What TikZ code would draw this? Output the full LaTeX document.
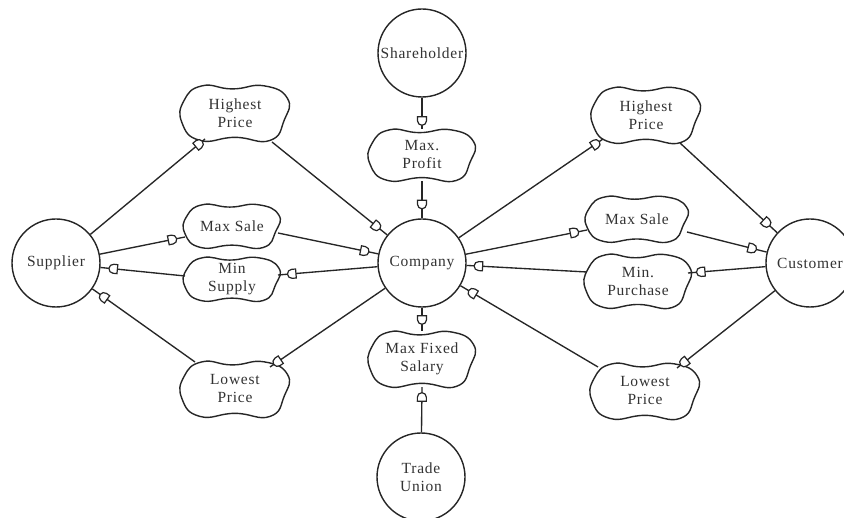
\documentclass[tikz,border=0pt]{standalone}
\usepackage{fontspec}
\setmainfont{Liberation Serif}[LetterSpace=5.0]
\usetikzlibrary{calc,decorations.markings}

\definecolor{ink}{HTML}{262626}
\definecolor{txt}{HTML}{333333}
\newcommand\lblfont{\fontsize{15.5}{18}\selectfont}

% soft pillow-shaped goal outline around a named node, half width #2, half height #3
\newcommand\goalblob[3]{%
  \draw[ink, line width=1.4pt, shift={(#1)}, x=#2pt, y=-#3pt]
    plot[smooth cycle, tension=0.85] coordinates {
      (-0.62,-0.97) (-0.05,-0.86) (0.55,-0.97) (0.99,-0.52)
      (0.93,0.25) (0.66,0.98) (0.00,0.87) (-0.66,0.98)
      (-1.00,0.35) (-0.96,-0.45)};}

\tikzset{
  actor/.style={circle, draw=ink, line width=1.4pt, minimum size=88pt,
    inner sep=0pt, font=\lblfont, text=txt},
  goal/.style={rectangle, inner sep=0pt, font=\lblfont, text=txt, align=center},
  link/.style={draw=ink, line width=1.35pt},
  dep/.style={link, postaction={decorate}, decoration={markings,
    mark=at position -#1pt with {\draw[ink, line width=1.2pt, fill=white]
      (-4pt,-4.5pt) -- (0pt,-4.5pt) arc[start angle=-90, end angle=90, radius=4.5pt]
      -- (-4pt,4.5pt) -- cycle;}}},
}

\begin{document}
\begin{tikzpicture}[x=1pt,y=-1pt]
\fill[white] (0,0) rectangle (844,518);
\clip (0,0) rectangle (844,518);

% actors
\node[actor] (sup) at (56,263) {Supplier};
\node[actor] (co)  at (422,263) {Company};
\node[actor] (cus) at (810,263) {Customer};
\node[actor] (sh)  at (422,53) {Shareholder};
\node[actor, align=center] (tu) at (421,477) {Trade\\Union};

% goals
\node[goal, minimum width=106pt, minimum height=56pt] (hpl) at (235,113) {Highest\\Price};
\node[goal, minimum width=94pt,  minimum height=44pt] (msl) at (232,226) {Max Sale};
\node[goal, minimum width=94pt,  minimum height=44pt] (mnl) at (232,279) {Min\\Supply};
\node[goal, minimum width=106pt, minimum height=56pt] (lpl) at (235,389) {Lowest\\Price};
\node[goal, minimum width=104pt, minimum height=52pt] (mp)  at (422,155) {Max.\\Profit};
\node[goal, minimum width=104pt, minimum height=56pt] (mfs) at (422,359) {Max Fixed\\Salary};
\node[goal, minimum width=106pt, minimum height=56pt] (hpr) at (646,115) {Highest\\Price};
\node[goal, minimum width=100pt, minimum height=46pt] (msr) at (637,219) {Max Sale};
\node[goal, minimum width=104pt, minimum height=54pt] (mnr) at (638,281) {Min.\\Purchase};
\node[goal, minimum width=106pt, minimum height=56pt] (lpr) at (645,391) {Lowest\\Price};

\goalblob{hpl}{53}{28}
\goalblob{msl}{47}{22}
\goalblob{mnl}{47}{22}
\goalblob{lpl}{53}{28}
\goalblob{mp}{52}{26}
\goalblob{mfs}{52}{28}
\goalblob{hpr}{53}{28}
\goalblob{msr}{50}{23}
\goalblob{mnr}{52}{27}
\goalblob{lpr}{53}{28}

% supplier side
\draw[dep=8]  (sup) -- ($(hpl)+(-30,26)$);
\draw[dep=14] ($(hpl)+(37,29)$) -- (co);
\draw[dep=13] (sup) -- ($(msl)+(-47,11)$);
\draw[dep=14] ($(msl)+(46,7)$) -- (co);
\draw[dep=14] (co) -- ($(mnl)+(46,-4)$);
\draw[dep=13] ($(mnl)+(-47,-3)$) -- (sup);
\draw[dep=9]  (co) -- ($(lpl)+(35,-22)$);
\draw[dep=14] ($(lpl)+(-40,-27)$) -- (sup);

% customer side
\draw[dep=9]  (co) -- ($(hpr)+(-43,24)$);
\draw[dep=14] ($(hpr)+(34,28)$) -- (cus);
\draw[dep=13] (co) -- ($(msr)+(-50,11)$);
\draw[dep=15] ($(msr)+(50,13)$) -- (cus);
\draw[dep=13] (cus) -- ($(mnr)+(50,-8)$);
\draw[dep=12] ($(mnr)+(-51,-9)$) -- (co);
\draw[dep=9]  (cus) -- ($(lpr)+(32,-23)$);
\draw[dep=14] ($(lpr)+(-47,-24)$) -- (co);

% shareholder and union
\draw[dep=8]  (sh) -- (mp.north);
\draw[dep=14] (mp.south) -- (co);
\draw[dep=11] (co) -- (mfs.north);
\draw[dep=10] (tu) -- (mfs.south);
\end{tikzpicture}
\end{document}
